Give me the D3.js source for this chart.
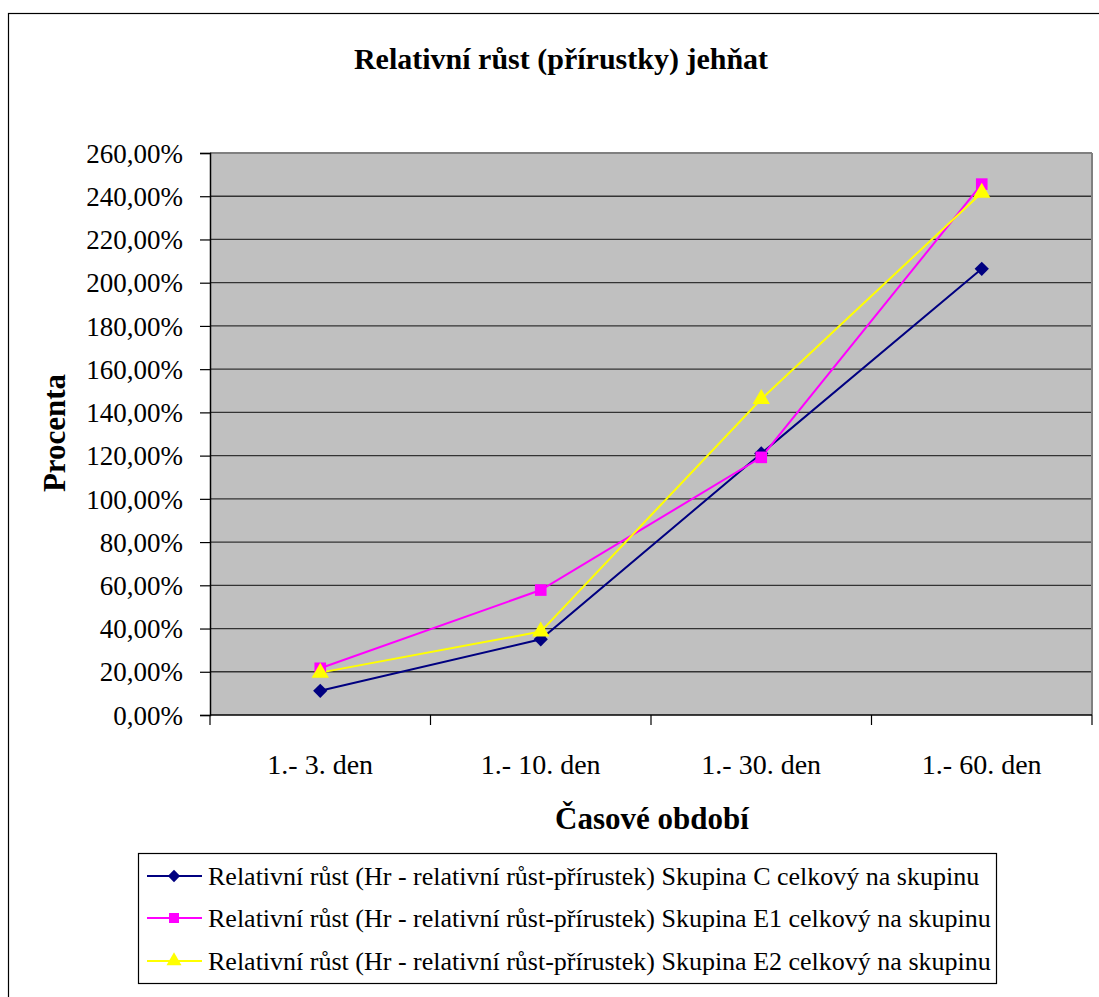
<!DOCTYPE html>
<html>
<head>
<meta charset="utf-8">
<script src="https://cdn.jsdelivr.net/npm/d3@7"></script>
<style>
  html, body { margin: 0; padding: 0; background: #fff; }
  svg { display: block; }
</style>
</head>
<body>
<svg id="chart" width="1099" height="997"></svg>
<script>
// Time periods on the x axis
const categories = ["1.- 3. den", "1.- 10. den", "1.- 30. den", "1.- 60. den"];

// Relative growth per group (percent)
const seriesC  = [11.2, 35.0, 121.0, 206.4];
const seriesE1 = [21.6, 57.8, 119.2, 245.6];
const seriesE2 = [19.6, 38.6, 146.2, 241.6];

const seriesNames = [
  "Relativní růst (Hr - relativní růst-přírustek) Skupina C celkový na skupinu",
  "Relativní růst (Hr - relativní růst-přírustek) Skupina E1 celkový na skupinu",
  "Relativní růst (Hr - relativní růst-přírustek) Skupina E2 celkový na skupinu"
];

const yTicks = [0, 20, 40, 60, 80, 100, 120, 140, 160, 180, 200, 220, 240, 260];

const FONT = "Liberation Serif";

const series = [
  { name: seriesNames[0], values: seriesC,  color: "#000080", symbol: d3.symbolDiamond2, size: 130 },
  { name: seriesNames[1], values: seriesE1, color: "#FF00FF", symbol: d3.symbolSquare,   size: 135 },
  { name: seriesNames[2], values: seriesE2, color: "#FFFF00", symbol: d3.symbolTriangle, size: 130 }
];

const svg = d3.select("#chart");

// Outer chart frame
svg.append("rect")
  .attr("x", 8.5).attr("y", 13.5)
  .attr("width", 1110).attr("height", 1010)
  .attr("fill", "#fff").attr("stroke", "#000").attr("stroke-width", 1.2);

const plot = { left: 210, top: 153, right: 1092, bottom: 715 };

const x = d3.scaleBand().domain(categories).range([plot.left, plot.right]);
const y = d3.scaleLinear().domain([0, 260]).range([plot.bottom, plot.top]);

// Plot background
svg.append("rect")
  .attr("x", plot.left).attr("y", plot.top)
  .attr("width", plot.right - plot.left).attr("height", plot.bottom - plot.top)
  .attr("fill", "#C0C0C0");

// Horizontal gridlines
svg.append("g")
  .selectAll("line")
  .data(yTicks.filter(t => t > 0 && t < 260))
  .join("line")
  .attr("x1", plot.left).attr("x2", plot.right)
  .attr("y1", d => y(d)).attr("y2", d => y(d))
  .attr("stroke", "#333").attr("stroke-width", 1.3);

// Plot frame (top and right in gray)
svg.append("line")
  .attr("x1", plot.left).attr("x2", plot.right)
  .attr("y1", plot.top).attr("y2", plot.top)
  .attr("stroke", "#808080").attr("stroke-width", 2);
svg.append("line")
  .attr("x1", plot.right).attr("x2", plot.right)
  .attr("y1", plot.top).attr("y2", plot.bottom)
  .attr("stroke", "#808080").attr("stroke-width", 2);

// Y axis
const yAxis = d3.axisLeft(y)
  .tickValues(yTicks)
  .tickSize(10)
  .tickPadding(17)
  .tickFormat(d => d3.format(".2f")(d).replace(".", ",") + "%");
const gy = svg.append("g")
  .attr("transform", `translate(${plot.left},0)`)
  .call(yAxis)
  .attr("font-family", FONT)
  .attr("font-size", 27);
gy.select(".domain").attr("stroke", "#000").attr("stroke-width", 1.5);
gy.selectAll(".tick line").attr("stroke", "#000").attr("stroke-width", 1.2);
gy.selectAll(".tick text")
  .attr("font-family", FONT)
  .attr("fill", "#000")
  .attr("dy", "0.34em");

// X axis: ticks sit on category boundaries
const gx = svg.append("g")
  .attr("transform", `translate(0,${plot.bottom})`);
gx.append("line")
  .attr("x1", plot.left).attr("x2", plot.right)
  .attr("stroke", "#000").attr("stroke-width", 1.5);
const bounds = categories.map(c => x(c)).concat([x(categories[categories.length - 1]) + x.bandwidth()]);
gx.selectAll("line.tick")
  .data(bounds)
  .join("line")
  .attr("class", "tick")
  .attr("x1", d => d).attr("x2", d => d)
  .attr("y1", 0).attr("y2", 10)
  .attr("stroke", "#000").attr("stroke-width", 1.2);
gx.selectAll("text")
  .data(categories)
  .join("text")
  .attr("x", d => x(d) + x.bandwidth() / 2)
  .attr("y", 59)
  .attr("text-anchor", "middle")
  .attr("font-family", FONT)
  .attr("font-size", 28)
  .attr("fill", "#000")
  .text(d => d);

// Title and axis titles
svg.append("text")
  .attr("x", 561).attr("y", 69)
  .attr("text-anchor", "middle")
  .attr("font-family", FONT)
  .attr("font-size", 30).attr("font-weight", "bold")
  .text("Relativní růst (přírustky) jehňat");

svg.append("text")
  .attr("x", 652).attr("y", 829)
  .attr("text-anchor", "middle")
  .attr("font-family", FONT)
  .attr("font-size", 31).attr("font-weight", "bold")
  .text("Časové období");

svg.append("text")
  .attr("transform", `translate(65,${(plot.top + plot.bottom) / 2 - 1}) rotate(-90)`)
  .attr("text-anchor", "middle")
  .attr("font-family", FONT)
  .attr("font-size", 31).attr("font-weight", "bold")
  .text("Procenta");

// Series lines and markers
const line = d3.line()
  .x((d, i) => x(categories[i]) + x.bandwidth() / 2)
  .y(d => y(d));

series.forEach(s => {
  svg.append("path")
    .datum(s.values)
    .attr("d", line)
    .attr("fill", "none")
    .attr("stroke", s.color)
    .attr("stroke-width", 2);
});
series.forEach(s => {
  svg.append("g")
    .selectAll("path")
    .data(s.values)
    .join("path")
    .attr("transform", (d, i) => `translate(${x(categories[i]) + x.bandwidth() / 2},${y(d)})`)
    .attr("d", d3.symbol().type(s.symbol).size(s.size))
    .attr("fill", s.color);
});

// Legend
const legend = svg.append("g");
legend.append("rect")
  .attr("x", 138.5).attr("y", 853.5)
  .attr("width", 858).attr("height", 130)
  .attr("fill", "#fff").attr("stroke", "#000").attr("stroke-width", 1.2);
const rowY = [876, 918, 961];
series.forEach((s, i) => {
  const g = legend.append("g").attr("transform", `translate(0,${rowY[i]})`);
  g.append("line")
    .attr("x1", 147).attr("x2", 202)
    .attr("stroke", s.color).attr("stroke-width", 2);
  g.append("path")
    .attr("transform", "translate(174,0)")
    .attr("d", d3.symbol().type(s.symbol).size(s.size * 0.75))
    .attr("fill", s.color);
  g.append("text")
    .attr("x", 208).attr("dy", "0.34em")
    .attr("font-family", FONT)
    .attr("font-size", 26)
    .attr("fill", "#000")
    .text(s.name);
});
</script>
</body>
</html>
